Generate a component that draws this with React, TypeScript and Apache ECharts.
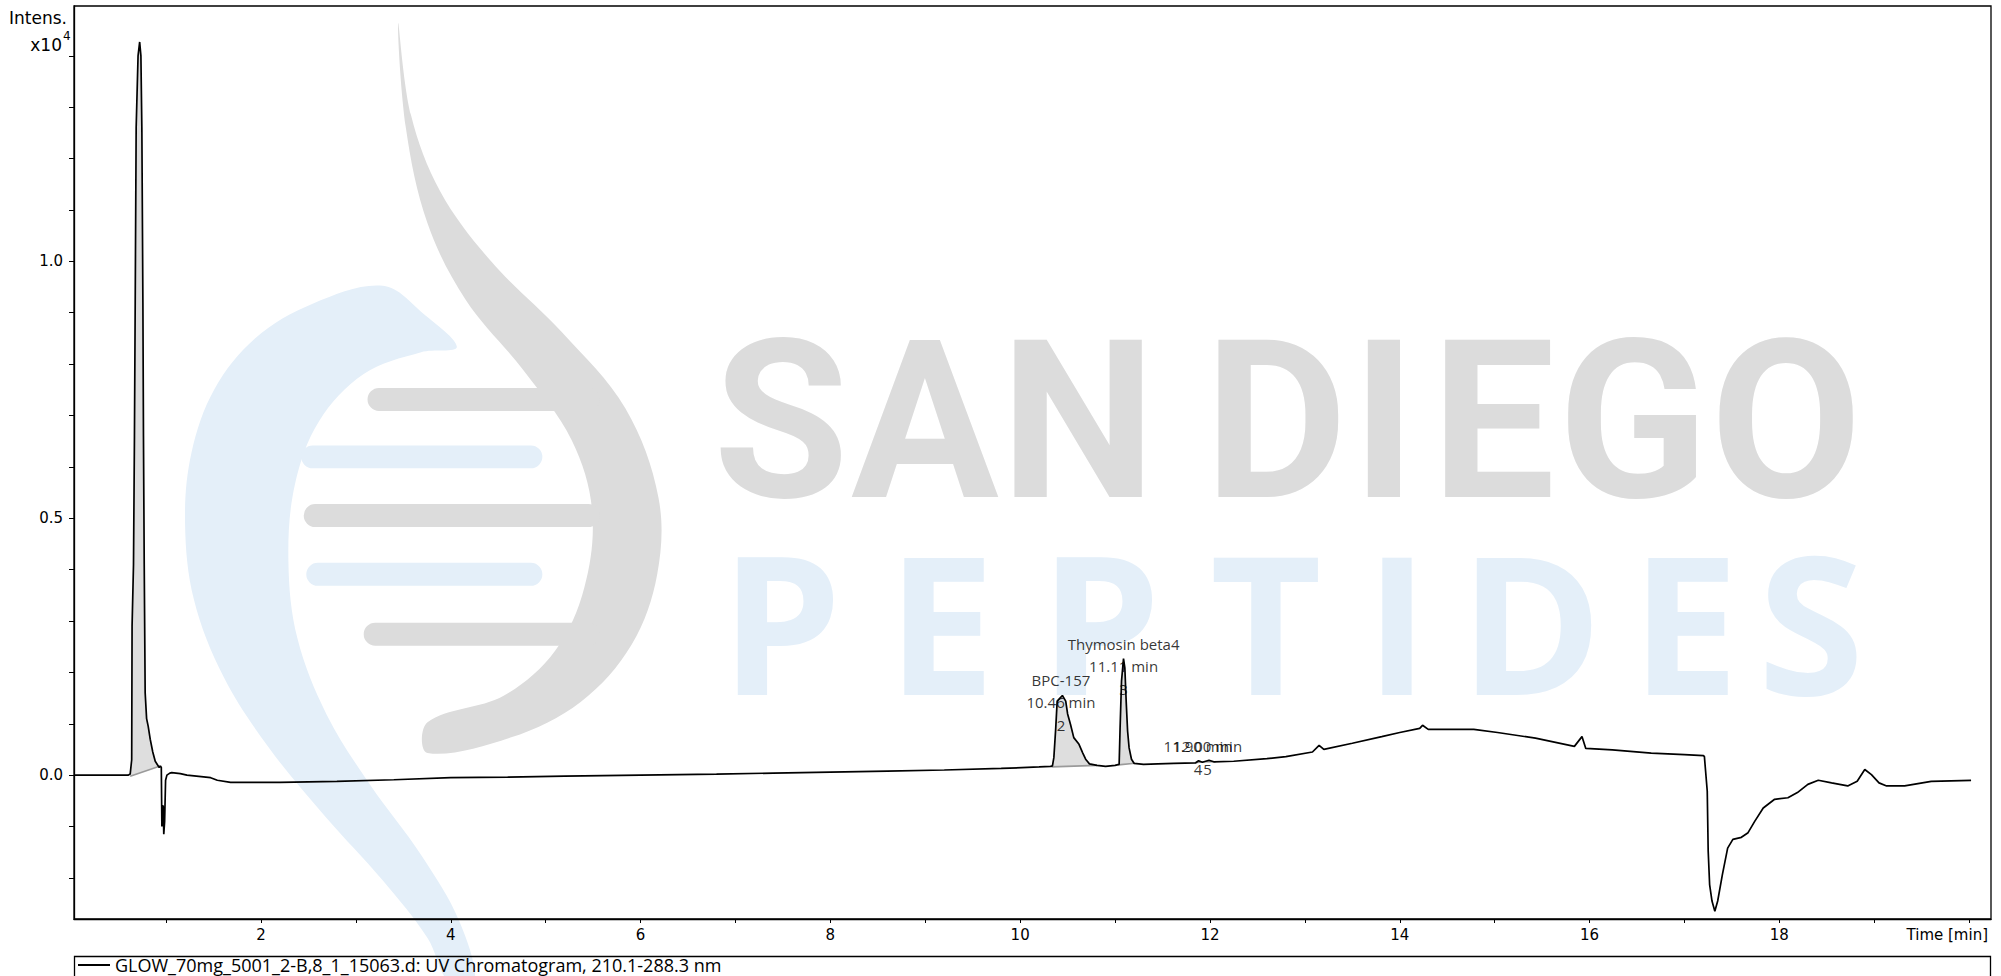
import React, { useEffect, useRef } from 'react';
import * as echarts from 'echarts';

// ---------- data ----------
const traceName = 'GLOW_70mg_5001_2-B,8_1_15063.d: UV Chromatogram, 210.1-288.3 nm';

const traceTime = [
  0.03, 0.3, 0.6, 0.622, 0.638, 0.642, 0.657, 0.667, 0.675, 0.685, 0.705, 0.722, 0.735, 0.745, 0.756,
  0.762, 0.77, 0.78, 0.795, 0.812, 0.833, 0.86, 0.886, 0.928, 0.94, 0.95, 0.956, 0.962, 0.97, 0.976,
  0.985, 0.995, 1.009, 1.04, 1.06, 1.15, 1.22, 1.47, 1.54, 1.68, 2.2, 2.8, 3.4, 4.0, 4.6, 5.2, 6.0,
  6.8, 7.4, 8.0, 8.6, 9.2, 9.8, 10.2, 10.32,
  10.34, 10.355, 10.375, 10.39, 10.445, 10.48, 10.5, 10.53, 10.565, 10.62, 10.66, 10.69, 10.73, 10.81,
  10.9, 11.0, 11.043, 11.053, 11.068, 11.089, 11.103, 11.117, 11.132, 11.148, 11.173, 11.2, 11.3,
  11.45, 11.62, 11.85, 11.88, 11.92, 11.99, 12.04, 12.25, 12.6, 12.8, 13.08, 13.15, 13.2, 13.5, 13.81,
  14.0, 14.21, 14.24, 14.3, 14.78, 15.03, 15.43, 15.84, 15.92, 15.96, 16.24, 16.65, 17.0, 17.2, 17.21,
  17.24, 17.25, 17.265, 17.29, 17.32, 17.35, 17.4, 17.455, 17.51, 17.6, 17.67, 17.74, 17.83, 17.95,
  18.09, 18.19, 18.3, 18.41, 18.55, 18.72, 18.82, 18.9, 18.97, 19.05, 19.13, 19.32, 19.6, 20.02,
];
const traceIntensity = [
  0.0, 0.0, 0.0, 0.002, 0.03, 0.29, 0.41, 0.66, 0.92, 1.26, 1.4, 1.427, 1.4, 1.26, 0.92,
  0.66, 0.41, 0.16, 0.11, 0.095, 0.07, 0.045, 0.027, 0.015, 0.018, 0.015, -0.1, -0.06, -0.06, -0.115,
  -0.09, -0.01, 0.0, 0.004, 0.005, 0.003, 0.0, -0.005, -0.01, -0.014, -0.014, -0.012, -0.009, -0.005, -0.004, -0.002, 0.0,
  0.002, 0.004, 0.006, 0.008, 0.01, 0.013, 0.016, 0.017,
  0.018, 0.034, 0.092, 0.144, 0.155, 0.144, 0.119, 0.099, 0.073, 0.06, 0.043, 0.031, 0.022, 0.019,
  0.017, 0.019, 0.021, 0.092, 0.183, 0.227, 0.209, 0.144, 0.086, 0.053, 0.031, 0.023, 0.021,
  0.022, 0.023, 0.024, 0.028, 0.025, 0.029, 0.026, 0.027, 0.032, 0.036, 0.045, 0.058, 0.05, 0.062, 0.075,
  0.083, 0.091, 0.097, 0.089, 0.089, 0.083, 0.072, 0.056, 0.075, 0.052, 0.049, 0.043, 0.04, 0.038, 0.036,
  -0.031, -0.148, -0.213, -0.245, -0.265, -0.245, -0.193, -0.142, -0.125, -0.121, -0.112, -0.09, -0.064, -0.047,
  -0.044, -0.034, -0.018, -0.01, -0.015, -0.021, -0.012, 0.011, 0.001, -0.015, -0.021, -0.021, -0.012, -0.01,
];

// integrated peaks (baseline segment start/end)
const integStartTime = [0.622, 10.33, 11.035, 11.84, 11.95];
const integStartIntensity = [-0.002, 0.016, 0.02, 0.024, 0.026];
const integEndTime = [0.938, 10.81, 11.21, 11.95, 12.06];
const integEndIntensity = [0.018, 0.019, 0.023, 0.026, 0.026];

// peak annotations
const peakLabelTime = [10.43, 11.09, 11.875, 11.975];
const peakLabelIntensity = [0.0975, 0.168, 0.0117, 0.0117];
const peakNames = ['BPC-157', 'Thymosin beta4', '', ''];
const peakRetention = ['10.46 min', '11.11 min', '11.90 min', '12.00 min'];
const peakNumbers = ['2', '3', '4', '5'];

// axes
const xMin = 0.03;
const xMax = 20.23;
const yMin = -0.28;
const yMax = 1.497;
const xLabelValues = [2, 4, 6, 8, 10, 12, 14, 16, 18];
const yLabelValues = [0.0, 0.5, 1.0];

// ---------- watermark (decoration, shrunk-picture coordinates) ----------
const K = 2001 / 1568;
const sc = (pts: number[][]) => pts.map(([x, y]) => [x * K, y * K]);
const WM_GRAY = '#dcdcdc';
const WM_BLUE = '#e4eff9';

const grayCrescent = sc([
  [312, 18], [322, 90], [345, 150], [385, 205], [440, 260], [490, 320], [516, 390], [515, 450],
  [495, 505], [455, 550], [400, 578], [335, 590], [335, 566], [395, 545], [435, 510], [458, 460],
  [464, 400], [448, 345], [410, 290], [365, 235], [335, 175], [318, 100],
]);
const blueCrescent = sc([
  [300, 224], [245, 238], [200, 265], [168, 305], [150, 355], [145, 410], [152, 470], [175, 530],
  [210, 585], [255, 640], [300, 690], [335, 735], [352, 770], [372, 770], [360, 722], [330, 670],
  [290, 615], [256, 560], [233, 500], [226, 440], [231, 380], [250, 330], [285, 293], [330, 276],
  [358, 272], [332, 246],
]);
const rungs = [
  { x: 288, y: 304, w: 182, c: WM_GRAY },
  { x: 236, y: 349, w: 189, c: WM_BLUE },
  { x: 238, y: 395, w: 232, c: WM_GRAY },
  { x: 240, y: 441, w: 185, c: WM_BLUE },
  { x: 285, y: 488, w: 185, c: WM_GRAY },
];
const sanLetters = ['S', 'A', 'N', 'D', 'I', 'E', 'G', 'O'];
const sanCenters = [781, 925, 1078, 1276, 1384, 1493, 1633, 1786];
const pepLetters = ['P', 'E', 'P', 'T', 'I', 'D', 'E', 'S'];
const pepCenters = [781, 941, 1100, 1266, 1397, 1531, 1685, 1811];

function buildWatermark(): any[] {
  const els: any[] = [];
  els.push({ type: 'polygon', z: -10, silent: true, shape: { points: blueCrescent, smooth: 0.35 }, style: { fill: WM_BLUE } });
  els.push({ type: 'polygon', z: -10, silent: true, shape: { points: grayCrescent, smooth: 0.35 }, style: { fill: WM_GRAY } });
  rungs.forEach((r) => {
    els.push({
      type: 'rect', z: -10, silent: true,
      shape: { x: r.x * K, y: r.y * K, width: r.w * K, height: 18 * K, r: 9 * K },
      style: { fill: r.c },
    });
  });
  sanLetters.forEach((l, i) => {
    els.push({
      type: 'text', z: -10, silent: true, x: sanCenters[i], y: 422,
      style: {
        text: l, fill: WM_GRAY, font: 'bold 220px Roboto',
        textAlign: 'center', textVerticalAlign: 'middle',
      },
    });
  });
  pepLetters.forEach((l, i) => {
    els.push({
      type: 'text', z: -10, silent: true, x: pepCenters[i], y: 620,
      style: {
        text: l, fill: WM_BLUE, font: 'bold 193px "Open Sans"',
        textAlign: 'center', textVerticalAlign: 'middle',
      },
    });
  });
  return els;
}

const isNear = (v: number, list: number[]) => list.some((a) => Math.abs(v - a) < 1e-6);

export default function App() {
  const ref = useRef<HTMLDivElement>(null);

  useEffect(() => {
    document.body.style.margin = '0';
    if (!ref.current) return;
    const chart = echarts.init(ref.current, null, { renderer: 'svg' });

    const lineData = traceTime.map((t, i) => [t, traceIntensity[i]]);
    const integData = integStartTime.map((s, i) => [s, integStartIntensity[i]]);
    const labelData = peakLabelTime.map((t, i) => {
      const lines = [] as string[];
      if (peakNames[i]) lines.push(peakNames[i]);
      lines.push(peakRetention[i]);
      lines.push(peakNumbers[i]);
      return { value: [t, peakLabelIntensity[i]], label: { formatter: lines.join('\n') } };
    });

    const option: any = {
      animation: false,
      backgroundColor: '#ffffff',
      grid: {
        left: 74, right: 10, top: 6, bottom: 57,
        show: true, borderColor: '#000', borderWidth: 1.3, backgroundColor: 'transparent',
      },
      legend: {
        left: 78, top: 956, padding: 0,
        itemWidth: 32, itemHeight: 2, icon: 'rect',
        data: [traceName],
        textStyle: { fontFamily: '"Open Sans"', fontSize: 18, color: '#000' },
        selectedMode: false,
      },
      xAxis: {
        type: 'value', min: xMin, max: xMax, minInterval: 1, maxInterval: 1,
        splitLine: { show: false },
        axisLine: { show: true, onZero: false, lineStyle: { color: '#000', width: 1.3 } },
        axisTick: { show: true, length: 4, lineStyle: { color: '#000', width: 1 } },
        axisLabel: {
          margin: 8, color: '#000', fontFamily: '"DejaVu Sans"', fontSize: 15,
          showMinLabel: false, showMaxLabel: false,
          formatter: (v: number) => (isNear(v, xLabelValues) ? String(Math.round(v)) : ''),
        },
      },
      yAxis: {
        type: 'value', min: yMin, max: yMax, minInterval: 0.1, maxInterval: 0.1,
        splitLine: { show: false },
        axisLine: { show: true, onZero: false, lineStyle: { color: '#000', width: 1.3 } },
        axisTick: { show: true, length: 5, lineStyle: { color: '#000', width: 1 } },
        axisLabel: {
          margin: 11, color: '#000', fontFamily: '"DejaVu Sans"', fontSize: 15,
          showMinLabel: false, showMaxLabel: false,
          formatter: (v: number) => (isNear(v, yLabelValues) ? Math.abs(v).toFixed(1) : ''),
        },
      },
      graphic: [
        ...buildWatermark(),
        {
          type: 'text', x: 67, y: 18, z: 10,
          style: { text: 'Intens.', fill: '#000', font: '17px "DejaVu Sans"', textAlign: 'right', textVerticalAlign: 'middle' },
        },
        {
          type: 'text', x: 62, y: 45, z: 10,
          style: { text: 'x10', fill: '#000', font: '17px "DejaVu Sans"', textAlign: 'right', textVerticalAlign: 'middle' },
        },
        {
          type: 'text', x: 63, y: 36, z: 10,
          style: { text: '4', fill: '#000', font: '12px "DejaVu Sans"', textAlign: 'left', textVerticalAlign: 'middle' },
        },
        {
          type: 'text', x: 1988, y: 935, z: 10,
          style: { text: 'Time [min]', fill: '#000', font: '15px "DejaVu Sans"', textAlign: 'right', textVerticalAlign: 'middle' },
        },
        {
          type: 'rect', z: 10, silent: true,
          shape: { x: 74.5, y: 956.5, width: 1916, height: 40 },
          style: { fill: 'none', stroke: '#000', lineWidth: 1.3 },
        },
      ],
      series: [
        {
          type: 'custom',
          name: 'integration',
          z: 2,
          silent: true,
          data: integData,
          renderItem: (params: any, api: any) => {
            const i = params.dataIndex;
            const s = integStartTime[i];
            const e = integEndTime[i];
            const p0 = api.coord([s, integStartIntensity[i]]);
            const p1 = api.coord([e, integEndIntensity[i]]);
            const pts: number[][] = [p0];
            for (let k = 0; k < traceTime.length; k++) {
              const t = traceTime[k];
              if (t >= s && t <= e) pts.push(api.coord([t, traceIntensity[k]]));
            }
            pts.push(p1);
            return {
              type: 'group',
              children: [
                { type: 'polygon', shape: { points: pts }, style: { fill: '#dedede' } },
                { type: 'line', shape: { x1: p0[0], y1: p0[1], x2: p1[0], y2: p1[1] }, style: { stroke: '#9a9a9a', lineWidth: 1.6 } },
              ],
            };
          },
        },
        {
          type: 'line',
          name: traceName,
          z: 3,
          data: lineData,
          showSymbol: false,
          symbol: 'none',
          smooth: false,
          lineStyle: { color: '#000', width: 1.7 },
          itemStyle: { color: '#000' },
        },
        {
          type: 'scatter',
          name: 'labels',
          z: 4,
          silent: true,
          symbolSize: 1,
          itemStyle: { color: 'rgba(0,0,0,0)' },
          data: labelData,
          label: {
            show: true, position: 'inside', align: 'center', verticalAlign: 'bottom',
            offset: [0, 11], lineHeight: 22.5,
            fontFamily: '"Open Sans"', fontSize: 15, color: '#000',
          },
        },
      ],
    };
    chart.setOption(option);
    return () => chart.dispose();
  }, []);

  return <div ref={ref} style={{ width: 2001, height: 976 }} />;
}
